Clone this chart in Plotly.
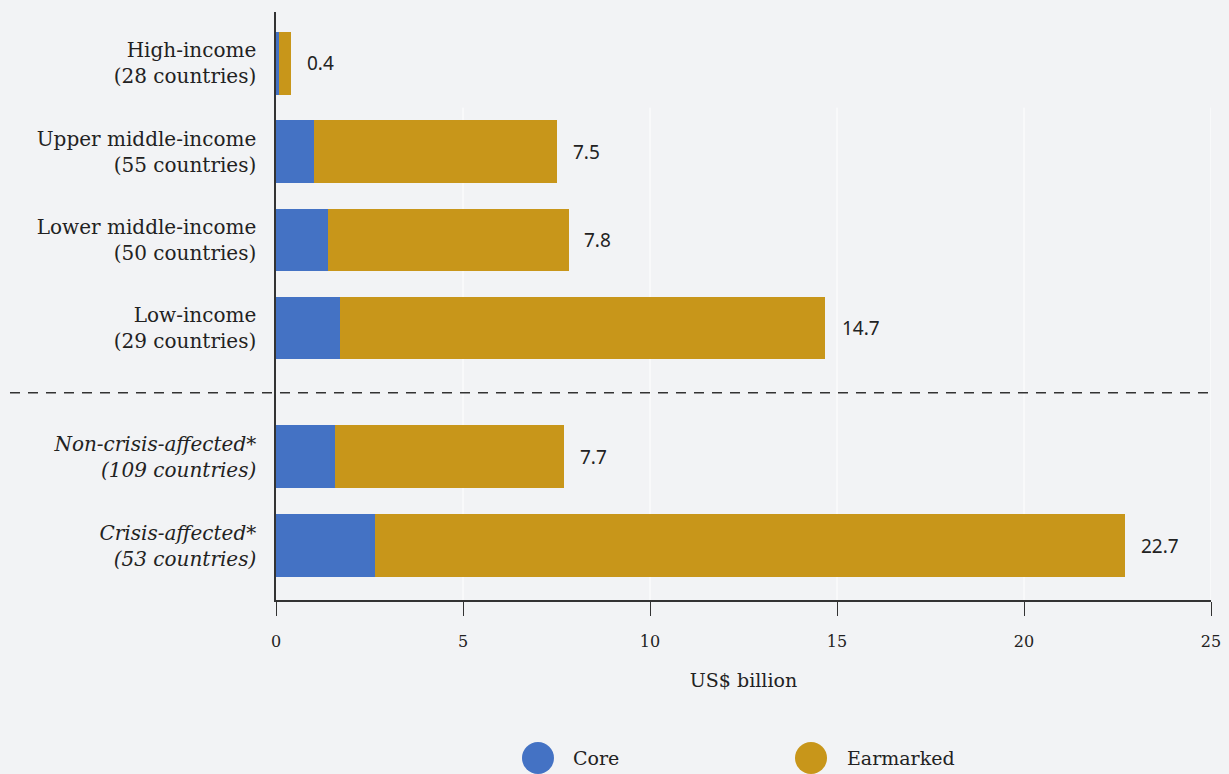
import plotly.graph_objects as go

# ---- data ----
categories = [
    "High-income<br>(28 countries)",
    "Upper middle-income<br>(55 countries)",
    "Lower middle-income<br>(50 countries)",
    "Low-income<br>(29 countries)",
    "<i>Non-crisis-affected*</i><br><i>(109 countries)</i>",
    "<i>Crisis-affected*</i><br><i>(53 countries)</i>",
]
core = [0.07, 1.02, 1.39, 1.71, 1.58, 2.65]
earmarked = [0.33, 6.48, 6.44, 12.97, 6.12, 20.05]
totals = [0.4, 7.5, 7.8, 14.7, 7.7, 22.7]
total_labels = ["0.4", "7.5", "7.8", "14.7", "7.7", "22.7"]
x_ticks = [0, 5, 10, 15, 20, 25]

# ---- layout constants ----
ypos = [0, 1, 2, 3, 4.46, 5.47]
BG = "#f2f3f5"
BLUE = "#4472c4"
GOLD = "#c8961a"
TXT = "#222222"
SERIF = "DejaVu Serif"
SANS = "Noto Sans"

fig = go.Figure()
fig.add_trace(go.Bar(y=ypos, x=core, orientation="h", name="Core",
                     marker=dict(color=BLUE, line=dict(width=0)), width=0.71,
                     hoverinfo="x"))
fig.add_trace(go.Bar(y=ypos, x=earmarked, orientation="h", name="Earmarked",
                     marker=dict(color=GOLD, line=dict(width=0)), width=0.71,
                     hoverinfo="x"))

annotations = []
for t, lab, y in zip(totals, total_labels, ypos):
    annotations.append(dict(x=t, y=y, xref="x", yref="y", text=lab, showarrow=False,
                            xanchor="left", yanchor="middle", xshift=14,
                            font=dict(family=SANS, size=19, color=TXT)))

shapes = []
# vertical gridlines (start below the first category)
for v in x_ticks[1:]:
    shapes.append(dict(type="line", xref="x", yref="y", x0=v, x1=v, y0=0.5, y1=6.085,
                       line=dict(color="#ffffff", width=1), layer="below"))
# dashed separator
shapes.append(dict(type="line", xref="paper", yref="y", x0=-0.2845, x1=1.0, y0=3.735, y1=3.735,
                   line=dict(color="#333333", width=1.5, dash="10px,8px"), layer="above"))

# legend drawn manually with circles
legend_items = [("Core", BLUE, 0.2802, 0.3155), ("Earmarked", GOLD, 0.5722, 0.6086)]
for name, col, cx, tx in legend_items:
    shapes.append(dict(type="circle", xref="paper", yref="paper", xsizemode="pixel", ysizemode="pixel",
                       xanchor=cx, yanchor=-0.2687, x0=-16, x1=16, y0=-16, y1=16,
                       fillcolor=col, line=dict(width=0)))
    annotations.append(dict(x=tx, y=-0.2687, xref="paper", yref="paper", text=name, showarrow=False,
                            xanchor="left", yanchor="middle",
                            font=dict(family=SERIF, size=19, color=TXT)))

fig.update_layout(
    width=1229, height=774,
    autosize=False,
    barmode="stack",
    paper_bgcolor=BG, plot_bgcolor=BG,
    margin=dict(l=276, r=18, t=12, b=174, autoexpand=False),
    showlegend=False,
    annotations=annotations,
    shapes=shapes,
    xaxis=dict(range=[0, 25], tickvals=x_ticks, ticktext=[str(v) for v in x_ticks],
               automargin=False,
               showgrid=False, zeroline=False,
               showline=True, linecolor="#333333", linewidth=1.5,
               ticks="outside", ticklen=14, tickwidth=1.2, tickcolor="#333333",
               ticklabelstandoff=12,
               tickfont=dict(family=SERIF, size=16, color=TXT),
               title=dict(text="US$ billion", font=dict(family=SERIF, size=19, color=TXT), standoff=24)),
    yaxis=dict(range=[6.085, -0.584], tickvals=ypos, ticktext=categories,
               automargin=False,
               showgrid=False, zeroline=False,
               showline=True, linecolor="#333333", linewidth=1.5,
               ticks="", ticklabelstandoff=14,
               tickfont=dict(family=SERIF, size=20, color=TXT)),
)

fig.write_html("out.html",
               config=dict(displayModeBar=False, responsive=False),
               post_script="document.body.style.margin='0';document.body.style.overflow='hidden';"
                           "document.body.style.background='%s';" % BG)
